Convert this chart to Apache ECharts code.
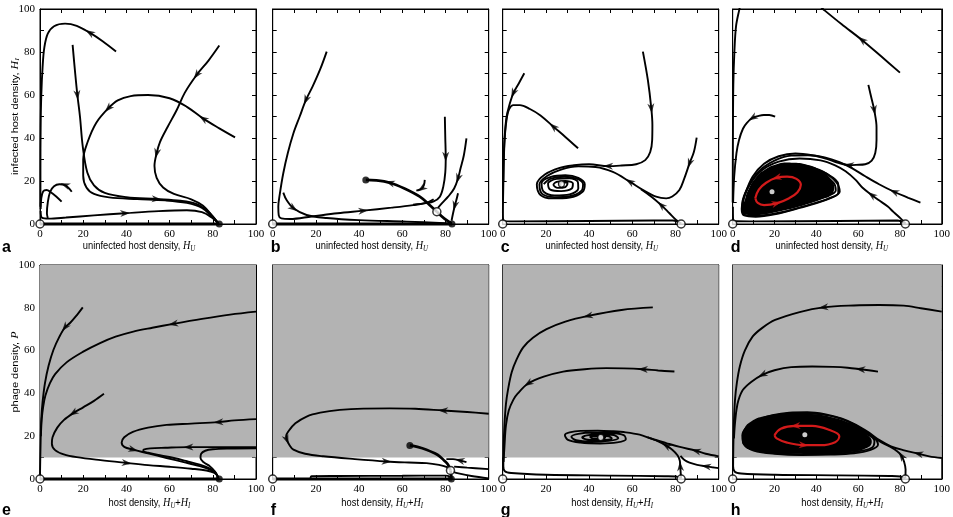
<!DOCTYPE html>
<html><head><meta charset="utf-8">
<script src="https://cdn.jsdelivr.net/npm/echarts@6/dist/echarts.min.js"></script>
<style>html,body{margin:0;padding:0;background:#fff}#c{width:953px;height:517px}</style>
</head><body><div id="c"></div>
<script>
// ---------- data ----------
const tickLabels = [0, 20, 40, 60, 80, 100];
const panelLetters = ['a','b','c','d','e','f','g','h'];

// panel a
const a1 = [[35.2,80.2],[29,85],[23,89],[17,92.2],[11.6,93.2],[6.5,92],[3.6,88.5],[2,82],[1.2,73],[0.6,60],[0.3,45],[0.2,25],[0.2,8]];
const a2 = [[15.1,83.3],[16.3,70],[17.3,60],[18.5,50],[19.8,36],[21.9,24],[25,18],[30,14.5],[40,12.5],[54,11.6],[65,10.8],[72,9.5],[77,6.5],[80.5,3],[82.6,0.3]];
const a3 = [[90.3,40.3],[83,44.5],[75.6,49],[68,54.5],[60,58.5],[50,60],[42,59.5],[36,57.5],[31.6,53.8],[26,47],[22,38],[20,30],[20,22.5],[21.5,17],[25,14],[32,12.4],[45,11.6],[58,11],[68,9.8],[75,7.5],[79.5,3.5],[82.6,0.3]];
const a4 = [[83,83],[78,76],[72.5,69.3],[67,61],[63.3,53],[59,45],[55.5,38],[54,32.9],[53,27],[54,21.5],[57,17],[62,14],[70,11.5],[75.5,8.5],[79.5,4],[82.6,0.3]];
const a5 = [[0.3,6],[1,2.8],[4,2.5],[12,3],[25,4],[39.4,5],[55,6],[68,6.4],[75,5.5],[79.5,3],[82.6,0.3]];
const a6 = [[14.7,15],[13,17],[11.6,18.1],[9,18.5],[6.5,17.6],[4.7,15],[3.6,10],[3.2,5],[3.6,2.8]];
const a7 = [[10,10.4],[7.5,12.8],[5,14.8],[3,15.8],[1.5,15.2],[0.6,12],[0.3,7]];
const aBase = [[0,0],[83,0]];
const aOpen = [[0,0]], aFilled = [[83,0]];

// panel b
const b1 = [[25,80.2],[22,72],[18.5,64],[15.4,57.7],[12.5,50],[9.6,42.2],[7,33],[4.9,23.6],[3.3,14],[2.6,8],[2.8,4],[4,2.6],[8,2.3],[18,3.5],[30,5],[41.9,6.2],[55,7.6],[65,8.8],[71,9.8],[74.5,11.5]];
const b2 = [[79.7,49.9],[79.9,40],[80.1,31.3],[79.9,24],[79,17.5],[77.4,12.7],[74.5,10.5],[71,9.7],[65,9]];
const b3 = [[89.7,39.8],[88.5,32],[87,26],[85.8,21.2],[84,16.5],[81.2,12.7],[78.5,9.8],[76.5,7.5]];
const b4 = [[85.8,14.3],[85,11],[84.3,8.5],[83.5,5],[82.8,1.5]];
const b5a = [[76,5.7],[72.5,9],[68.1,12.7],[61,16.5],[54.2,19.2],[48,20.3],[43.1,20.5]];
const b5b = [[76,5.7],[79.5,2.5],[82.8,0.3]];
const b6 = [[70.4,20.5],[70,18],[69,16.5],[66.5,15.5]];
const b7 = [[4.9,14.6],[6.5,11],[9.6,7.3],[15.7,4.2],[25,2.8],[40,1.8],[62,1.1],[82,0.3]];
const bBase = [[0,0],[83,0]];
const bOpen = [[0,0],[76,5.7]], bFilled = [[83,0],[43.1,20.5]];

// panel c
const c1 = [[10,70.1],[7.5,65.5],[4.9,60.8],[3,55],[1.8,49.9],[1,42],[0.6,34.4],[0.3,18.9],[0.1,5],[0.5,1.5],[5,1.2],[40,1.4],[70,1.6],[78.8,1.6],[82.6,0.2]];
const c2 = [[34.9,35.2],[29,40.5],[23.4,45.3],[17.5,50.5],[12.6,53.5],[8,55.3],[4.9,55.3],[3,53.5],[2,50],[1.1,42.2],[0.5,30],[0.3,20]];
const c3 = [[64.9,80.2],[67.2,67],[68.8,53.8],[69.3,46],[69.2,39.1],[68.3,33.5],[66,29.7],[61.8,27.8],[55,27.2],[48.8,26.9],[40,27.8],[33,27.3],[26,26],[19.5,23],[15.8,18.5],[17.5,13.5],[23,11.9],[31,12.3],[37,15],[38,18.5],[35,21.5],[29,22.7],[22,21.8],[18,19],[19,15],[24,13.3],[31,13.8],[35,16.5],[34.8,19.5],[31,21.3],[25,21],[21,18.8],[22,16],[27,15.3],[32,16.5],[32.5,18.8],[29,20],[25,19.6],[23.5,18.2],[25.5,16.8],[29,17.2],[30,18.8],[27.5,19.4],[26,18.6],[27.2,18]];
const c4 = [[89.8,40.2],[88.5,33.5],[86.5,28.2],[84,21],[81.8,15.8],[78.5,12.8],[75.7,11.9],[71,12.7],[65,15.8],[58.8,19.7],[51,24.2],[43,26.5],[35,26.8],[27,25.3],[20.5,22.3],[17,18.5],[18.3,14],[24,12.5],[31,12.9],[36.5,15.5],[37.2,18.5],[34.5,21],[28.5,22],[22,21],[19,18.5]];
const c5 = [[82.6,0.2],[80.3,1.9],[77.2,5],[73.4,8.8],[69,12.6],[64,16.2]];
const cOpen = [[0,0],[82.6,0]], cCenter = [[27.2,18.6]];

// panel d
const d1 = [[80,70.4],[71,78],[61.8,85.6],[52,93],[43.4,99.8],[42,101]];
const d2 = [[3.5,101],[3.1,99.5],[1.6,92],[0.8,80],[0.3,65],[0.1,40],[0,10]];
const d3 = [[20.3,49.9],[17.5,50.7],[14.9,50.7],[12,50.2],[9.5,49.4],[6.8,47],[4.9,44.3],[3,39],[1.8,33],[0.7,22],[0.2,10]];
const d4 = [[64.9,64.7],[66.5,58],[67.7,53],[68.8,45],[68.8,39.1],[68.2,33],[66.5,29.5],[63.4,27.8],[59,27.5],[55.7,27.4],[50,28.6],[45,30.3],[38,32],[30,32.8],[22,31.5],[15,28],[9.5,22],[6,14],[4.3,7],[5.5,4],[11,3.4],[20,4.5],[32,7.5],[44,11],[50.5,14.5],[50.5,18.5],[45,23.3],[36,26.5]];
const d5 = [[89.8,9.9],[84,12.2],[77.2,15],[70,18.5],[63.4,22.2],[57,26],[51.1,28.8],[44,31],[36,32],[28,31.8],[20,29.5],[12.5,24.5],[7,16.5],[4.5,9],[5.3,4.6],[11,3.8],[24,5.6],[36,8.8],[46,11.9],[51.2,15],[49.5,19.5],[43,24.5],[33,27.5]];
const d6 = [[82.6,0.2],[80.3,2.6],[77,5.5],[74.2,8.1],[70,11],[66.5,13.5],[62,17],[58.8,20.5],[54,24.5],[49,27.3],[42,29.6],[32,30.5],[22,29],[14,25],[8,18],[5,10],[5.3,5.2],[11,4.5],[22,6.2],[34,9.2],[44,12.5],[49.3,15.6],[48.2,19.2],[42,23.2],[34,25.8]];
const d7 = [[0.1,8],[0.6,1.4],[10,1.2],[50,1.4],[78.8,1.6],[82.6,0.2]];
const dBlob = [[5,6],[6,12],[8,17],[11,21.5],[15,25],[21,27.8],[28,28.5],[36,27.5],[42,25],[46.5,21.5],[48.5,17.5],[47,13.5],[42,11.5],[34,9],[24,6.5],[14,4.8],[7,4.5]];
const dCycle = [[10.8,12],[12,9.8],[15,8.8],[21,9.6],[27,12],[31,14.8],[32.6,18.2],[30.5,21],[26,22],[21,21.5],[16,19.2],[12.5,16],[10.8,12]];
const dOpen = [[0,0],[82.6,0]], dCenter = [[18.8,15]];

// panel e
const e1 = [[19.8,80.2],[17,76.5],[14,73],[11.6,70.9],[9,66.5],[6.2,60.3],[4,53],[2.3,44.8],[1.2,36],[0.6,28],[0.3,18],[0.1,8],[0,2]];
const e2 = [[100,78.2],[88,76.8],[75,74.8],[61.7,72.5],[52,70.7],[43.2,68.9],[35,66.5],[27.8,63.5],[20,59.5],[12.3,54.5],[7,49],[4.6,44.8],[2.5,39],[1.5,34],[0.8,28],[0.4,20]];
const e3 = [[29.6,39.8],[25,36.5],[20,33.5],[15.4,30.8],[11,27.5],[8,24],[5.8,19.5],[5.5,16.5],[7,13.5],[11,11.5],[17,10.2],[28,8.8],[40.1,7.5],[50,6.5],[60,5.7],[70,4.8],[77,4],[80.5,3],[82.2,1.5],[82.6,0]];
const e4 = [[100,28],[90,27.4],[82.6,26.6],[70,25.9],[58.6,25.3],[50,24],[43,22],[39,19.5],[37.8,17],[39,15],[43.2,13.7],[50,12],[58.6,9.8],[67,7.8],[74,6],[78.5,4.5],[81.5,2.5],[82.6,0]];
const e5 = [[100,14.9],[85,14.9],[68.7,14.9],[58,14.6],[51,14.3],[48,13.7],[47.8,13],[50,12.3],[56,11],[62,9.8],[68,8.3],[74,6.7],[78.5,5],[81.3,3],[82.6,0]];
const e6 = [[100,14.3],[88,14.2],[80,13.9],[76.5,13.2],[74.6,11.8],[74.3,9.8],[75.8,7.8],[78.7,5.9],[81,3.5],[82.5,0.5]];
const eBase = [[0,0],[83,0]];
const eOpen = [[0,0]], eFilled = [[83,0]];

// panel f
const f1 = [[100,30.5],[90,31.3],[78.9,32],[66,32.8],[54.2,33],[42,32.9],[31.1,32.3],[22,31],[15.7,29.2],[10.5,26],[7.2,22.2],[6.2,20],[6.5,18.4],[7.8,15.8],[9.6,13.7],[15,11.8],[23.4,10.6],[38,9.3],[52.7,8.2],[63,7.7],[71.2,7.4],[77,6.6],[80.4,5.7],[82.3,4.5]];
const f2 = [[63.5,15.7],[67,15],[71.2,13.7],[75,12],[77.3,10.6],[79.5,8.5],[81.2,6.7],[82.3,4.0]];
const f2b = [[82.3,4.0],[82.6,2],[82.7,0]];
const f3 = [[89.7,7.9],[86.6,8.7],[83.5,9.3],[80.4,9.3]];
const f4 = [[100,4.6],[90,5.3],[84,5.8]];
const f5 = [[100,0.3],[92,1.4],[86,2.6],[83.5,3.3]];
const f6 = [[17.5,0.2],[18,1.3],[30,1.4],[60,1.5],[80,1.6],[82.5,1]];
const fBase = [[0,0],[83,0]];
const fOpen = [[0,0],[82.3,4.0]], fFilled = [[82.7,0],[63.5,15.7]];

// panel g
const g1 = [[69.5,80.2],[55,79],[39.5,76.2],[29,73.5],[20.3,70],[14,66],[9.5,61.5],[6.5,56],[4.2,50],[2.5,42],[1.5,35],[0.8,25],[0.4,15],[0.3,6],[1,3.6],[4,2.8],[20,2],[51,1.6],[75,1.3],[80.3,1.2],[82.6,0.2]];
const g2 = [[79.5,50.2],[72,50.7],[64.9,51.3],[56,51.7],[48,51.8],[38,51.3],[28,50.2],[19,47.8],[11.8,44.6],[7,40],[4.9,37],[2.8,32],[1.5,25],[0.8,15],[0.4,8]];
const g3 = [[100,10.6],[94,11.8],[89.5,13.2],[82,15],[75.7,16.8],[69,18.8],[63.4,20.7],[57,21.8],[51.1,22.3],[44,22.6],[36,22.5],[31,21.8],[28.8,20.6],[30.2,18.3],[36,17],[45,16.6],[53,17.1],[57,18.6],[56,20.5],[50,21.5],[42,21.7],[35,21.1],[31.8,19.7],[34,18.1],[41,17.5],[49,17.8],[53.5,19],[51.5,20.5],[45,20.9],[39,20.4],[36.8,19.4],[39.5,18.4],[46,18.2],[50.5,18.9],[49,20],[44,20.2],[40.5,19.6],[42,18.9],[47,19],[47.5,19.6],[45,19.8],[43.8,19.4],[45.4,19.4]];
const g4 = [[100,5.1],[97,5.5],[94.2,5.9],[90,6.6],[86.5,7.6],[84,9],[82.3,10.8]];
const g5 = [[82.6,0.2],[82.4,3],[82.2,5.9],[82,8.5],[81,11],[78.5,13.7],[75.7,15.6],[72,17.6],[67,19.6]];
const gOpen = [[0,0],[82.6,0]], gCenter = [[45.4,19.4]];

// panel h
const h1 = [[100,78.2],[90,79.8],[81.8,81],[70,81.3],[58,81.1],[43.4,80.2],[32,78],[20.3,74.3],[14,70.5],[9.5,66.5],[5.8,60],[3.4,52.6],[2,45],[1.1,37],[0.6,27],[0.3,15],[0.2,6],[1,3.4],[4,2.6],[20.3,2],[51,1.7],[75,1.4],[80.3,1.2],[82.6,0.2]];
const h2 = [[69.5,50.2],[65,50.8],[61.1,51.3],[55,52],[48,52.4],[38,52.6],[28,52.3],[20,50.8],[14.2,48.7],[9,45.5],[4.9,41.7],[2.8,37],[1.8,32.3],[1,25],[0.6,19]];
const h3 = [[100,9.8],[94,10.6],[88.8,11.8],[82,13.4],[75.7,15.3],[70,18.3],[65,21.8],[59,25.3],[52,28.3],[44,30.3],[35.7,31.2],[27,31],[19,29.8],[12,27.6],[7,24.5],[4.6,20.5],[5.5,16],[10,13.3],[20,11.8],[33,11.2],[47,11.4],[58,12],[66,13.6],[69.5,16],[67.5,19.5],[61,23.7],[52,27]];
const h4 = [[82.6,0.2],[82.7,4.4],[82,8],[80.8,10.8],[78.8,12.9],[75,15.2],[70,17.8],[64,21.8],[57.5,25.8],[50,28.7],[41,30.3],[30,30.7],[19,29.4],[10.5,26.5],[5.5,22.5],[5,17.8],[8.5,14.2],[17,12.3],[30,11.6],[45,11.7],[58,12.6],[66.5,14.6],[67.8,17.8],[63,21.6],[55,25.3]];
const hBlob = [[4.5,19],[5.5,23.5],[9,27],[15,29.3],[25,30.5],[36,30.5],[47,29],[57,25.5],[64,21],[66.5,17],[63,14],[55,12.5],[45,11.8],[30,11.8],[18,12.3],[9,13.5],[5.5,15.5]];
const hCycle = [[20,20.5],[21,19],[26,17],[34,15.8],[42,15.8],[49,17.2],[51,20],[46,23],[38,24.8],[30,24.8],[23,23.5],[20,20.5]];
const hOpen = [[0,0],[82.6,0]], hCenter = [[34.5,20.7]];

const grayBand = [10, 100]; // phage density region shaded in e-h

// ---------- panel assembly ----------
const panels = [
  {curves:[[a1,[2]],[a2,[2,9]],[a3,[2,8]],[a4,[2,7]],[a5,[5]],[a6,[2]],[a7,[]]], base:aBase, open:aOpen, filled:aFilled},
  {curves:[[b1,[3,15]],[b2,[2]],[b3,[3]],[b4,[2]],[b5a,[4],2.7],[b5b,[],2.7],[b6,[2]],[b7,[2]]], base:bBase, open:bOpen, filled:bFilled},
  {curves:[[c1,[2]],[c2,[2]],[c3,[2,9]],[c4,[2,9]],[c5,[3]]], open:cOpen, center:cCenter},
  {curves:[[d1,[2]],[d2,[]],[d3,[4]],[d4,[2,9]],[d5,[2]],[d6,[5]],[d7,[]]], blob:dBlob, cycle:[dCycle,[3,9]], open:dOpen, white:dCenter},
  {curves:[[e1,[3]],[e2,[3]],[e3,[3,12]],[e4,[2,10]],[e5,[2]],[e6,[]]], base:eBase, open:eOpen, filled:eFilled, gray:true},
  {curves:[[f1,[2,12,18]],[f2,[],2.7],[f2b,[],2.7],[f3,[1]],[f4,[]],[f5,[]],[f6,[]]], base:fBase, open:fOpen, filled:fFilled, gray:true},
  {curves:[[g1,[2]],[g2,[2,8]],[g3,[2]],[g4,[2]],[g5,[2,6]]], open:gOpen, center:gCenter, gray:true},
  {curves:[[h1,[5]],[h2,[2,8]],[h3,[2]],[h4,[3]]], blob:hBlob, cycle:[hCycle,[3,9]], open:hOpen, white:hCenter, gray:true}
];

const PL = [40, 272.7, 502.7, 732.7], PT = [9, 265], PW = 216, PH = [215, 214];
const ARROW = 'path://M0,0 L5,12 L0,8.5 L-5,12 Z';
const grids = [], xAxes = [], yAxes = [], series = [], graphics = [];
const lblFmt = v => tickLabels.includes(v) ? String(v) : '';

function arrowData(pts, idxs, sx, sy) {
  return idxs.map(i => {
    const p0 = pts[Math.max(0, i - 1)], p1 = pts[Math.min(pts.length - 1, i + 1)];
    const ang = Math.atan2((p1[1] - p0[1]) * sy, (p1[0] - p0[0]) * sx) * 180 / Math.PI;
    return {value: pts[i], symbolRotate: ang - 90};
  });
}

panels.forEach((P, p) => {
  const col = p % 4, row = Math.floor(p / 4);
  const sx = PW / 100, sy = PH[row] / 100;
  grids.push({left: PL[col], top: PT[row], width: PW, height: PH[row], show: true, borderColor: '#000', borderWidth: 1, backgroundColor: 'transparent'});
  const base = {gridIndex: p, type: 'value', min: 0, max: 100, interval: 10,
    splitLine: {show: false},
    axisLine: {show: true, onZero: false, lineStyle: {color: '#000', width: 1}},
    axisTick: {show: true, inside: true, length: 4, lineStyle: {color: '#000', width: 1}}};
  const lbl = {formatter: lblFmt, fontFamily: 'Liberation Serif', fontSize: 11, color: '#000', margin: 5};
  xAxes.push(Object.assign({}, base, {position: 'bottom', axisLabel: Object.assign({show: true}, lbl)}));
  xAxes.push(Object.assign({}, base, {position: 'top', axisLabel: {show: false}}));
  yAxes.push(Object.assign({}, base, {position: 'left', axisLabel: Object.assign({show: col === 0}, lbl)}));
  yAxes.push(Object.assign({}, base, {position: 'right', axisLabel: {show: false}}));
  const ax = {xAxisIndex: 2 * p, yAxisIndex: 2 * p};

  if (P.gray) {
    series.push(Object.assign({type: 'line', data: [], silent: true, z: 1,
      markArea: {silent: true, itemStyle: {color: '#b3b3b3', opacity: 1},
        data: [[{xAxis: 0, yAxis: grayBand[0]}, {xAxis: 100, yAxis: grayBand[1]}]]}}, ax));
  }
  if (P.blob) {
    const blob = P.blob;
    series.push(Object.assign({type: 'custom', silent: true, z: 3, data: [0],
      renderItem: (params, api) => ({type: 'polygon', shape: {points: blob.map(q => api.coord(q)), smooth: 0.5}, style: {fill: '#000'}})}, ax));
  }
  const arrows = [];
  P.curves.forEach(([pts, idx, w]) => {
    series.push(Object.assign({type: 'line', data: pts, showSymbol: false, smooth: 0.35, silent: true, z: 4,
      lineStyle: {color: '#000', width: w || 1.9}}, ax));
    arrowData(pts, idx, sx, sy).forEach(a => arrows.push(a));
  });
  if (P.base) {
    series.push(Object.assign({type: 'line', data: P.base, showSymbol: false, silent: true, z: 5, clip: false,
      lineStyle: {color: '#000', width: 3}}, ax));
  }
  series.push(Object.assign({type: 'scatter', data: arrows, symbol: ARROW, symbolSize: [7, 10], silent: true, z: 6, clip: false,
    itemStyle: {color: '#000'}}, ax));
  if (P.cycle) {
    const [cyc, cidx] = P.cycle;
    series.push(Object.assign({type: 'line', data: cyc, showSymbol: false, smooth: 0.4, silent: true, z: 7,
      lineStyle: {color: '#d21a1a', width: 2.2}}, ax));
    series.push(Object.assign({type: 'scatter', data: arrowData(cyc, cidx, sx, sy), symbol: ARROW, symbolSize: [7, 10], silent: true, z: 8,
      itemStyle: {color: '#d21a1a'}}, ax));
  }
  if (P.white) {
    series.push(Object.assign({type: 'scatter', data: P.white, symbol: 'circle', symbolSize: 5, silent: true, z: 9, itemStyle: {color: '#fff'}}, ax));
  }
  if (P.center) {
    series.push(Object.assign({type: 'scatter', data: P.center, symbol: 'circle', symbolSize: 6, silent: true, z: 9,
      itemStyle: {color: '#fff', borderColor: '#000', borderWidth: 1.2}}, ax));
  }
  if (P.filled) {
    series.push(Object.assign({type: 'scatter', data: P.filled, symbol: 'circle', symbolSize: 7, silent: true, z: 10, clip: false,
      itemStyle: {color: '#000'}}, ax));
  }
  series.push(Object.assign({type: 'scatter', data: P.open, symbol: 'circle', symbolSize: 8, silent: true, z: 10, clip: false,
    itemStyle: {color: '#fff', borderColor: '#000', borderWidth: 1.5}}, ax));

  // panel letter
  graphics.push({type: 'text', x: col === 0 ? 2 : PL[col] - 2, y: row === 0 ? 256 : 519, silent: true,
    style: {text: panelLetters[p], fontFamily: 'Liberation Sans', fontWeight: 'bold', fontSize: 16, fill: '#000', textVerticalAlign: 'bottom'}});
  // axis titles
  const rich = {
    n: {fontFamily: 'Liberation Sans', fontSize: 11, fill: '#000'},
    i: {fontFamily: 'Liberation Serif', fontStyle: 'italic', fontSize: 12, fill: '#000'},
    s: {fontFamily: 'Liberation Serif', fontStyle: 'italic', fontSize: 8, fill: '#000', verticalAlign: 'bottom', padding: [6, 0, 0, 0]}
  };
  const xt = row === 0 ? '{n|uninfected host density, }{i|H}{s|U}' : '{n|host density, }{i|H}{s|U}{n|+}{i|H}{s|I}';
  graphics.push({type: 'text', x: PL[col] + PW / 2 + (row === 0 ? -9 : 1.5), y: row === 0 ? 246 : 503, scaleX: 0.85, silent: true,
    style: {text: xt, fontFamily: 'Liberation Sans', fontSize: 11, fill: '#000', textAlign: 'center', textVerticalAlign: 'middle', rich: rich}});
  if (col === 0) {
    const yt = row === 0 ? '{n|infected host density, }{i|H}{s|I}' : '{n|phage density, }{i|P}';
    graphics.push({type: 'text', x: 15, y: PT[row] + PH[row] / 2, rotation: Math.PI / 2, scaleY: 0.85, silent: true,
      style: {text: yt, fontFamily: 'Liberation Sans', fontSize: 11, fill: '#000', textAlign: 'center', textVerticalAlign: 'middle', rich: rich}});
  }
});

const chart = echarts.init(document.getElementById('c'), null, {renderer: 'canvas'});
chart.setOption({animation: false, backgroundColor: '#fff', grid: grids, xAxis: xAxes, yAxis: yAxes, series: series, graphic: graphics});
</script></body></html>
